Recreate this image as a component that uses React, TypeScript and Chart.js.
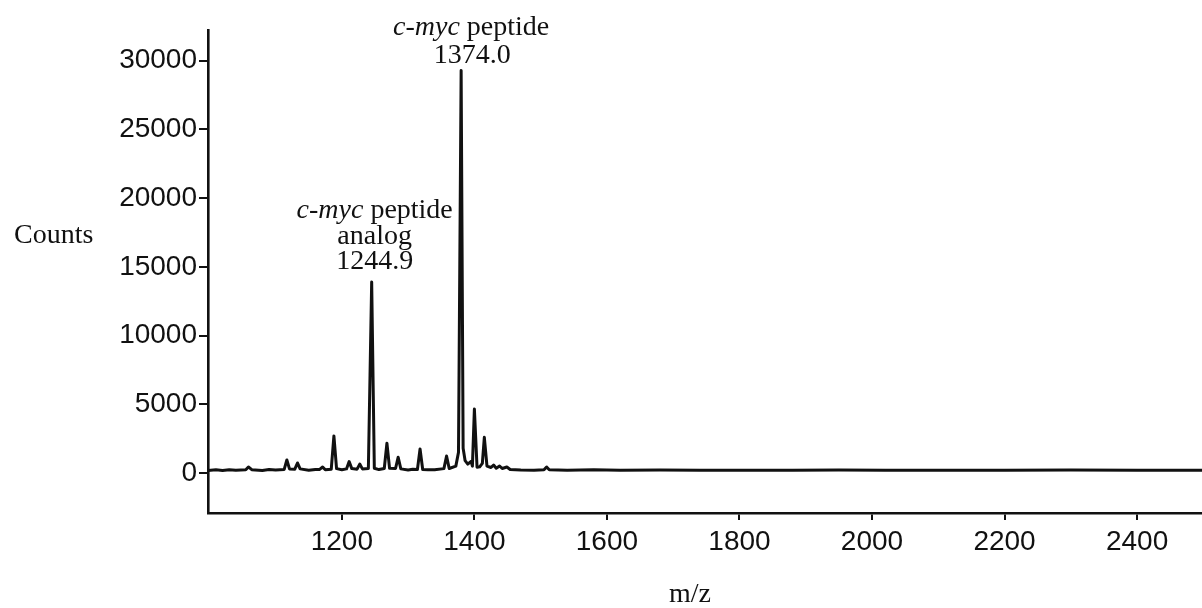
import React, { useEffect, useRef } from "react";
import { Chart, registerables } from "chart.js";

Chart.register(...registerables);

// m/z positions of the spectrum samples
const mzValues: number[] = [
  998, 1010, 1020, 1030, 1040, 1055, 1059, 1064, 1080, 1090, 1100, 1113, 1117, 1121, 1129, 1133, 1137,
  1150, 1160, 1166, 1171, 1175, 1184, 1188, 1192, 1200, 1207, 1211, 1215, 1223, 1227, 1231,
  1240, 1245, 1249, 1256, 1264, 1268, 1272, 1281, 1285, 1289, 1300, 1307, 1314, 1318, 1322,
  1330, 1340, 1354, 1358, 1362, 1372, 1376, 1380, 1383, 1386, 1390, 1395, 1397, 1400, 1404,
  1408, 1412, 1415, 1419, 1425, 1429, 1433, 1438, 1442, 1449, 1454, 1470, 1490, 1505,
  1509, 1513, 1540, 1580, 1620, 1680, 1740, 1800, 1880, 1950, 2020, 2100, 2200, 2300,
  2400, 2498,
];
// counts at each m/z sample
const countValues: number[] = [
  180, 230, 190, 240, 200, 230, 440, 240, 190, 250, 220, 260, 950, 300, 280, 730, 300,
  200, 260, 250, 440, 230, 280, 2700, 320, 240, 300, 830, 320, 280, 650, 300,
  330, 13900, 350, 250, 330, 2170, 340, 330, 1150, 300, 220, 270, 250, 1750, 260,
  240, 230, 320, 1240, 330, 500, 1500, 29300, 1800, 900, 650, 850, 500, 4650, 420,
  450, 700, 2600, 500, 400, 580, 350, 510, 330, 440, 260, 220, 210, 230,
  440, 240, 210, 230, 200, 220, 200, 210, 200, 220, 200, 210, 200, 215,
  205, 210,
];

const xTickValues: number[] = [1200, 1400, 1600, 1800, 2000, 2200, 2400];
const yTickValues: number[] = [0, 5000, 10000, 15000, 20000, 25000, 30000];

const peakAnalogMz = 1245;
const peakMainMz = 1380;
const analogLabelLines: string[] = ["analog", "1244.9"];
const mainLabelValue = "1374.0";
const yTitle = "Counts";
const xTitle = "m/z";

const SERIF = "'Liberation Serif', 'Times New Roman', serif";
const SANS = "'Liberation Sans', Arial, sans-serif";

function drawMyc(ctx: CanvasRenderingContext2D, cx: number, cy: number, size: number) {
  const italic = `italic ${size}px ${SERIF}`;
  const normal = `${size}px ${SERIF}`;
  ctx.font = italic;
  const w1 = ctx.measureText("c-myc").width;
  ctx.font = normal;
  const w2 = ctx.measureText(" peptide").width;
  const start = cx - (w1 + w2) / 2;
  ctx.textAlign = "left";
  ctx.font = italic;
  ctx.fillText("c-myc", start, cy);
  ctx.font = normal;
  ctx.fillText(" peptide", start + w1, cy);
}

const textPlugin = {
  id: "textPlugin",
  afterDraw(chart: any) {
    const ctx: CanvasRenderingContext2D = chart.ctx;
    const xs = chart.scales.x;
    ctx.save();
    ctx.fillStyle = "#111";
    ctx.textBaseline = "middle";
    // y title
    ctx.font = `28px ${SERIF}`;
    ctx.textAlign = "left";
    ctx.fillText(yTitle, 14, 236);
    // x title
    ctx.textAlign = "center";
    ctx.fillText(xTitle, 690, 595);
    // main peak label
    const xm = xs.getPixelForValue(peakMainMz);
    drawMyc(ctx, xm + 10, 28, 28);
    ctx.textAlign = "center";
    ctx.font = `28px ${SERIF}`;
    ctx.fillText(mainLabelValue, xm + 11, 56);
    // analog label
    const xa = xs.getPixelForValue(peakAnalogMz);
    drawMyc(ctx, xa + 3, 211, 28);
    ctx.textAlign = "center";
    ctx.font = `28px ${SERIF}`;
    ctx.fillText(analogLabelLines[0], xa + 3, 237);
    ctx.fillText(analogLabelLines[1], xa + 3, 262);
    ctx.restore();
  },
};

export default function App() {
  const ref = useRef<HTMLCanvasElement | null>(null);
  useEffect(() => {
    document.body.style.margin = "0";
    const canvas = ref.current;
    if (!canvas) return;
    const data = mzValues.map((m, i) => ({ x: m, y: countValues[i] }));
    const chart = new Chart(canvas, {
      type: "scatter",
      data: {
        datasets: [
          {
            data,
            showLine: true,
            borderColor: "#111",
            borderWidth: 3,
            borderJoinStyle: "round",
            borderCapStyle: "round",
            pointRadius: 0,
            tension: 0,
          },
        ],
      },
      options: {
        animation: false,
        responsive: false,
        devicePixelRatio: 1,
        layout: { padding: { top: 30, left: 0, right: 0, bottom: 0 } },
        plugins: { legend: { display: false }, tooltip: { enabled: false } },
        scales: {
          x: {
            type: "linear",
            min: 998,
            max: 2498,
            afterFit: (s: any) => {
              s.height = 95;
            },
            afterBuildTicks: (s: any) => {
              s.ticks = xTickValues.map((v) => ({ value: v }));
            },
            grid: {
              drawOnChartArea: false,
              drawTicks: true,
              tickLength: 7,
              color: "#111",
              lineWidth: 2,
            },
            border: { display: true, color: "#111", width: 2.6 },
            ticks: {
              color: "#111",
              font: { family: SANS, size: 28 },
              padding: 5,
              maxRotation: 0,
              callback: (v: any) => String(v),
            },
          },
          y: {
            type: "linear",
            min: -2910,
            max: 32240,
            afterFit: (s: any) => {
              s.width = 208;
            },
            afterBuildTicks: (s: any) => {
              s.ticks = yTickValues.map((v) => ({ value: v }));
            },
            grid: {
              drawOnChartArea: false,
              drawTicks: true,
              tickLength: 9,
              color: "#111",
              lineWidth: 2,
            },
            border: { display: true, color: "#111", width: 2.6 },
            ticks: {
              color: "#111",
              font: { family: SANS, size: 28 },
              padding: 2,
              callback: (v: any) => String(v),
            },
          },
        },
      },
      plugins: [textPlugin],
    });
    return () => chart.destroy();
  }, []);
  return <canvas ref={ref} width={1202} height={608} style={{ display: "block", width: 1202, height: 608 }} />;
}
